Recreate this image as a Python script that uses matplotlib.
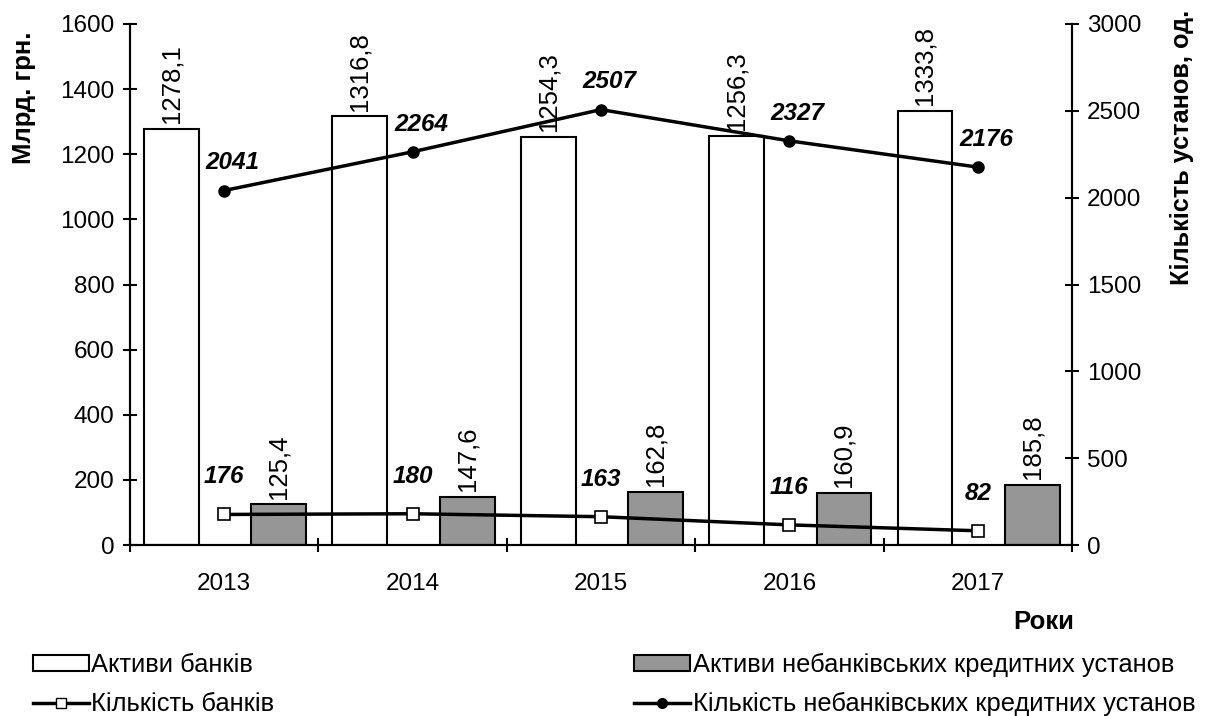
import numpy as np
import matplotlib
matplotlib.use("Agg")
import matplotlib.pyplot as plt
from matplotlib.patches import Patch
from matplotlib.lines import Line2D

plt.rcParams['font.family'] = ['Liberation Sans', 'DejaVu Sans']
plt.rcParams['font.size'] = 17.5

years = ["2013", "2014", "2015", "2016", "2017"]
bank_assets = [1278.1, 1316.8, 1254.3, 1256.3, 1333.8]
nonbank_assets = [125.4, 147.6, 162.8, 160.9, 185.8]
bank_count = [176, 180, 163, 116, 82]
nonbank_count = [2041, 2264, 2507, 2327, 2176]


def fmt(v):
    return ("%.1f" % v).replace(".", ",")


fig = plt.figure(figsize=(12.1, 7.16), dpi=100)
ax = fig.add_axes([0.1074, 0.2388, 0.7785, 0.7277])
ax2 = ax.twinx()

x = np.arange(len(years))
w = 0.29
ax.bar(x - 0.28, bank_assets, w, color="white", edgecolor="black", linewidth=1.5, zorder=2)
ax.bar(x + 0.29, nonbank_assets, w, color="#969696", edgecolor="black", linewidth=1.5, zorder=2)

for xi, v in zip(x, bank_assets):
    ax.annotate(fmt(v), (xi - 0.28, v), xytext=(0, 4), textcoords="offset points",
                rotation=90, ha="center", va="bottom", fontsize=18.5)
for xi, v in zip(x, nonbank_assets):
    ax.annotate(fmt(v), (xi + 0.29, v), xytext=(0, 4), textcoords="offset points",
                rotation=90, ha="center", va="bottom", fontsize=18.5)

ax2.plot(x, nonbank_count, color="black", lw=2.5, marker="o", ms=8, zorder=3)
ax2.plot(x, bank_count, color="black", lw=2.5, marker="s", ms=8, mfc="white", mec="black", mew=1.2, zorder=3)

for xi, v in zip(x, nonbank_count):
    ax2.annotate(str(v), (xi, v), xytext=(6, 20), textcoords="offset points",
                 ha="center", va="center", fontsize=17.5, fontweight="bold", style="italic")
for xi, v in zip(x, bank_count):
    ax2.annotate(str(v), (xi, v), xytext=(0, 27), textcoords="offset points",
                 ha="center", va="center", fontsize=17.5, fontweight="bold", style="italic")

ax.set_xlim(-0.5, 4.5)
ax.set_ylim(0, 1600)
ax2.set_ylim(0, 3000)
ax.set_yticks(np.arange(0, 1601, 200))
ax2.set_yticks(np.arange(0, 3001, 500))
ax.set_xticks(np.arange(-0.5, 5, 1))
ax.set_xticklabels([])
ax.set_xticks(x, minor=True)
ax.set_xticklabels(years, minor=True)
ax.tick_params(axis="x", which="minor", length=0, pad=20)
ax.tick_params(axis="x", which="major", direction="inout", length=10, width=1.5)
ax.tick_params(axis="y", direction="inout", length=10, width=1.5, pad=6)
ax2.tick_params(axis="y", direction="inout", length=10, width=1.5, pad=6)

for a in (ax, ax2):
    a.spines["top"].set_visible(False)
    for s in ("left", "right", "bottom"):
        a.spines[s].set_linewidth(1.5)

fig.text(24 / 1210, 1 - 32 / 716, "Млрд. грн.", rotation=90, ha="center", va="top",
         fontweight="bold", fontsize=18.5)
fig.text(1182 / 1210, 1 - 10 / 716, "Кількість установ, од.", rotation=90, ha="center", va="top",
         fontweight="bold", fontsize=18.2)
fig.text(0.888, 0.131, "Роки", fontweight="bold", fontsize=18.5, ha="right", va="center")

h1 = Patch(facecolor="white", edgecolor="black", linewidth=1.5)
h2 = Patch(facecolor="#969696", edgecolor="black", linewidth=1.5)
h3 = Line2D([], [], color="black", lw=2.5, marker="s", ms=7, mfc="white", mec="black")
h4 = Line2D([], [], color="black", lw=2.5, marker="o", ms=7)

kw = dict(loc="upper left", frameon=False, handlelength=2.2, handleheight=0.6,
          handletextpad=0.1, labelspacing=0.6, borderaxespad=0, borderpad=0, fontsize=18.4)
fig.legend([h1, h3], ["Активи банків", "Кількість банків"],
           bbox_to_anchor=(0.027, 0.088), **kw)
fig.legend([h2, h4], ["Активи небанківських кредитних установ", "Кількість небанківських кредитних установ"],
           bbox_to_anchor=(0.524, 0.088), **kw)

fig.savefig("out.png", dpi=100)
